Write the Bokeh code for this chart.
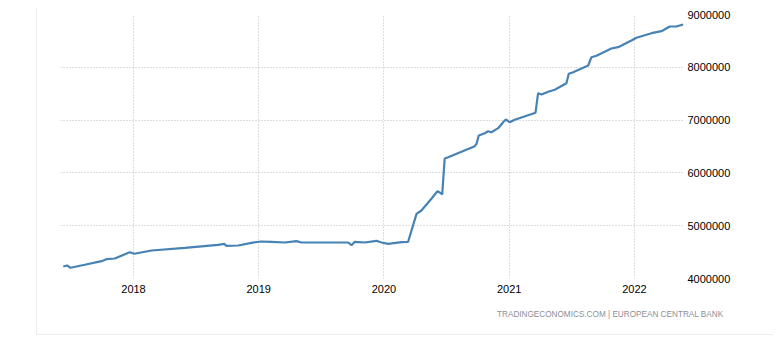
from bokeh.plotting import figure
from bokeh.models import FixedTicker, Range1d, LinearAxis, Title, NumeralTickFormatter
from bokeh.embed import file_html
from bokeh.resources import INLINE

# Eurosystem total assets (EUR million), x as decimal year
years = [2017.439, 2017.471, 2017.497, 2017.611, 2017.745, 2017.784, 2017.851, 2017.970,
         2018.006, 2018.144, 2018.410, 2018.676, 2018.724, 2018.743, 2018.836, 2018.942,
         2019.022, 2019.102, 2019.208, 2019.301, 2019.341, 2019.475, 2019.607, 2019.714,
         2019.741, 2019.767, 2019.847, 2019.940, 2019.980, 2020.034, 2020.140, 2020.193,
         2020.220, 2020.260, 2020.299, 2020.379, 2020.427, 2020.446, 2020.465, 2020.485,
         2020.513, 2020.725, 2020.739, 2020.757, 2020.805, 2020.832, 2020.858, 2020.912,
         2020.952, 2020.973, 2021.004, 2021.044, 2021.151, 2021.210, 2021.231, 2021.258,
         2021.311, 2021.364, 2021.457, 2021.476, 2021.511, 2021.564, 2021.631, 2021.657,
         2021.697, 2021.816, 2021.870, 2021.976, 2022.016, 2022.136, 2022.216, 2022.237,
         2022.282, 2022.335, 2022.389]
values = [4227000, 4246000, 4203000, 4260000, 4328000, 4366000, 4379000, 4498000,
          4468000, 4530000, 4581000, 4638000, 4657000, 4619000, 4625000, 4676000,
          4701000, 4695000, 4682000, 4707000, 4682000, 4682000, 4682000, 4682000,
          4631000, 4695000, 4682000, 4714000, 4682000, 4657000, 4688000, 4695000,
          4909000, 5225000, 5288000, 5510000, 5653000, 5629000, 5591000, 6273000,
          6297000, 6506000, 6551000, 6708000, 6752000, 6790000, 6771000, 6847000,
          6960000, 7011000, 6960000, 7006000, 7093000, 7138000, 7510000, 7485000,
          7536000, 7574000, 7699000, 7877000, 7907000, 7964000, 8034000, 8191000,
          8218000, 8356000, 8381000, 8508000, 8559000, 8646000, 8684000, 8710000,
          8773000, 8773000, 8811000]
x_ticks = [2018, 2019, 2020, 2021, 2022]
y_ticks = [4000000, 5000000, 6000000, 7000000, 8000000, 9000000]
source_text = "TRADINGECONOMICS.COM  |  EUROPEAN  CENTRAL  BANK"

p = figure(width=737, height=327, output_backend="svg", toolbar_location=None,
           x_range=Range1d(2017.417, 2022.40), y_range=Range1d(4000000, 9000000),
           y_axis_location=None, min_border_left=23, min_border_top=6,
           min_border_right=90, min_border_bottom=57)
p.margin = (8, 0, 0, 36)
p.styles = {"border-left": "1px solid #ececec", "border-bottom": "1px solid #ececec"}
p.outline_line_color = None
p.background_fill_color = "white"
p.border_fill_color = "white"

p.line(years, values, line_color="#4682b4", line_width=2.2)

yaxis = LinearAxis(ticker=FixedTicker(ticks=y_ticks),
                   formatter=NumeralTickFormatter(format="0"))
p.add_layout(yaxis, "right")
for ax in [p.xaxis[0], yaxis]:
    ax.axis_line_color = None
    ax.major_tick_line_color = None
    ax.minor_tick_line_color = None
    ax.major_tick_out = 0
    ax.major_tick_in = 0
    ax.major_label_text_font = "Liberation Sans"
    ax.major_label_text_font_size = "11px"
    ax.major_label_text_color = "#000000"
p.xaxis[0].ticker = FixedTicker(ticks=x_ticks)
p.xaxis[0].major_label_standoff = 6
yaxis.major_label_standoff = 3

p.xgrid.ticker = FixedTicker(ticks=x_ticks)
p.ygrid.ticker = FixedTicker(ticks=y_ticks)
for g in [p.xgrid[0], p.ygrid[0]]:
    g.grid_line_color = "#bdbdbd"
    g.grid_line_dash = "1 2"
    g.grid_line_width = 1

t = Title(text=source_text, align="right", offset=-48, text_font="Liberation Sans",
          text_font_size="8.2px", text_color="#8a8f99", text_font_style="normal",
          standoff=24)
p.add_layout(t, "below")

open("out.html", "w").write(file_html(p, INLINE))
